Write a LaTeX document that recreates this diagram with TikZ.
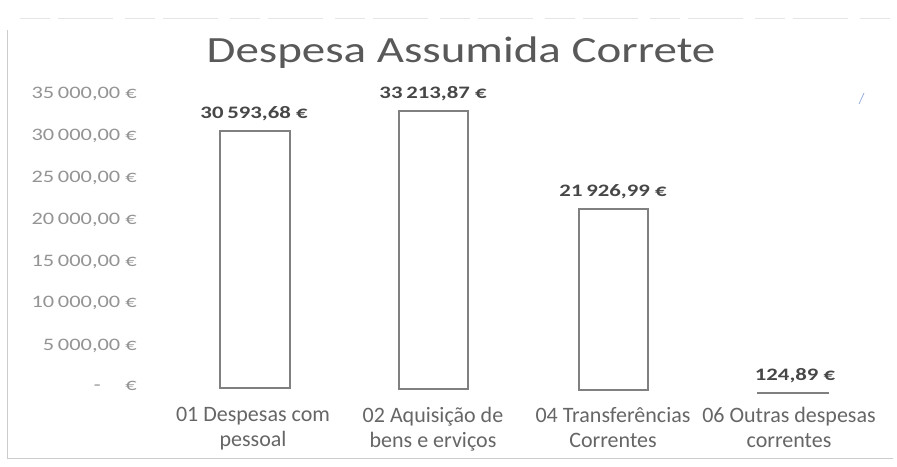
\documentclass[tikz,border=0pt]{standalone}
\usepackage{fontspec}
\setmainfont{Carlito}
\begin{document}
\begin{tikzpicture}[x=1pt,y=-1pt,
  axlab/.style={anchor=base east,text=black!42,font=\fontsize{17.5}{20}\selectfont,inner sep=0pt,xscale=1.28},
  vallab/.style={anchor=base,text=black!72,font=\fontsize{17.5}{20}\selectfont\bfseries,inner sep=0pt,xscale=1.3},
  catlab/.style={anchor=north,text=black!60,font=\fontsize{22}{25}\selectfont,align=center,inner sep=0pt},
  barbox/.style={draw=black!50,line width=2.6pt,fill=white},
  frame/.style={draw=black!20,line width=0.6pt}]
\useasboundingbox (0,0) rectangle (897,466);
\fill[white] (0,0) rectangle (897,466);
% frame
\draw[frame] (7,30) -- (7,458) -- (893,458);
\draw[black!10,line width=0.8pt,dash pattern=on 30pt off 8pt on 55pt off 12pt] (20,18) -- (893,18);
\draw[cyan!40!blue!40,line width=0.8pt] (859,104) -- (864,93);
% title
\node[anchor=base,text=black!65,font=\fontsize{37}{42}\selectfont,inner sep=0pt,xscale=1.27] (title) at (461,62) {Despesa Assumida Correte};
% axis labels
\node[axlab] (y35) at (137,98) {35\,000,00 €};
\node[axlab] (y30) at (137,140) {30\,000,00 €};
\node[axlab] (y25) at (137,182) {25\,000,00 €};
\node[axlab] (y20) at (137,224) {20\,000,00 €};
\node[axlab] (y15) at (137,266) {15\,000,00 €};
\node[axlab] (y10) at (137,307) {10\,000,00 €};
\node[axlab] (y5) at (137,350) {5\,000,00 €};
\node[axlab] (y0) at (137,390) {-\hspace{1.1em}€};
% bars
\draw[barbox] (220,131) rectangle (290,388);
\draw[barbox] (399,111) rectangle (468,389);
\draw[barbox] (579,209) rectangle (648,390);
\draw[draw=black!50,line width=2.6pt] (757,393) -- (829,393);
% value labels
\node[vallab] (v1) at (254,118) {30\,593,68 €};
\node[vallab] (v2) at (433,98) {33\,213,87 €};
\node[vallab] (v3) at (613,196) {21\,926,99 €};
\node[vallab] (v4) at (795,380) {124,89 €};
% category labels
\node[catlab] (c1) at (253,407) {01 Despesas com\\pessoal};
\node[catlab] (c2) at (433,407) {02 Aquisição de\\bens e erviços};
\node[catlab] (c3) at (613,407) {04 Transferências\\Correntes};
\node[catlab] (c4) at (789,407) {06 Outras despesas\\correntes};
\end{tikzpicture}
\end{document}
